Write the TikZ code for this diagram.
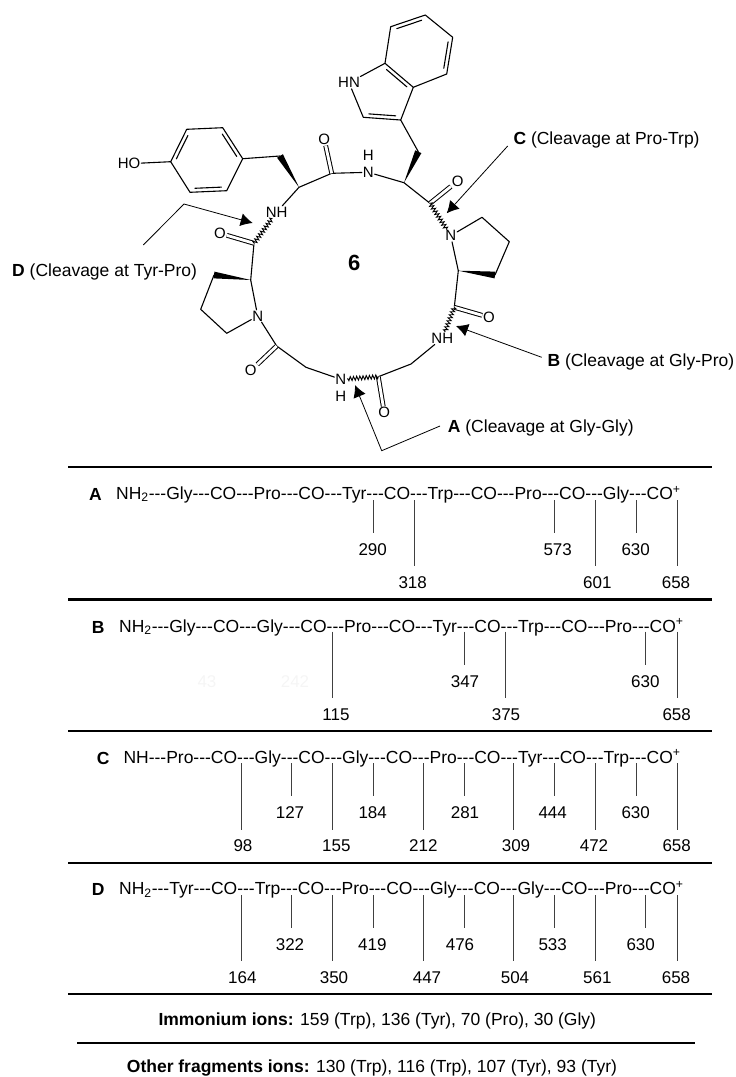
\documentclass[tikz,border=0pt]{standalone}
\usepackage{fontspec}
\setmainfont{Liberation Sans}
\usetikzlibrary{calc,arrows.meta,decorations.pathmorphing}

\tikzset{
    atom/.style={inner sep=0.8pt,font=\fontsize{15}{15}\selectfont},
    lab/.style={anchor=west,inner sep=0pt,yshift=-1.5pt,font=\fontsize{17.5}{20}\selectfont},
    num/.style={inner sep=0pt,text height=12pt,text depth=0pt,font=\fontsize{17}{20}\selectfont},
    tick/.style={line width=0.9pt,black!75,shorten >=10pt},
    rule/.style={line width=2.4pt},
    bond/.style={line width=1.1pt,line cap=round,line join=round},
    dbl/.style={double,double distance=2.8pt,line width=1pt},
    wavy/.style={line width=0.9pt,decorate,decoration={zigzag,segment length=3.2pt,amplitude=2pt}},
    pointer/.style={line width=0.8pt,-{Latex[length=12pt,width=13pt]}},
}
% inner line of a ring double bond, on the left of the way from #1 to #2
\newcommand{\innerbond}[3]{\draw[bond] ($(#1)!0.14!(#2)!#3!90:(#2)$) -- ($(#2)!0.14!(#1)!#3!-90:(#1)$);}
\newcommand{\wedgebond}[2]{\fill (#1) -- ($(#2)!3.4pt!90:(#1)$) -- ($(#2)!3.4pt!-90:(#1)$) -- cycle;}
\newcommand{\pb}{-{}-{}-}

\begin{document}
\begin{tikzpicture}[x=1pt,y=-1pt]
    \useasboundingbox (0,0) rectangle (736,1077);

    % indole
    \coordinate (w1) at (425.3,15);
    \coordinate (w2) at (452.7,37.3);
    \coordinate (w3) at (446.7,74);
    \coordinate (w4) at (413.3,87.3);
    \coordinate (w5) at (385,63.3);
    \coordinate (w6) at (390.7,26.7);
    \coordinate (w7) at (363.3,117.3);
    \coordinate (w8) at (400.7,120);
    \coordinate (w9) at (418.3,151.7);
    \node[atom] (hn) at (349,82.7) {HN};
    \draw[bond] (w1) -- (w2) -- (w3) -- (w4) -- (w5) -- (w6) -- cycle;
    \draw[bond] (w5) -- (hn);
    \draw[bond] (hn) -- (w7) -- (w8) -- (w4);
    \draw[bond] (w8) -- (w9);
    \innerbond{w1}{w6}{3.8pt}
    \innerbond{w3}{w2}{3.8pt}
    \innerbond{w4}{w5}{3.8pt}
    \innerbond{w7}{w8}{3.8pt}

    % phenol
    \coordinate (y1) at (242.7,158.7);
    \coordinate (y2) at (222.7,127.7);
    \coordinate (y3) at (186.7,129.3);
    \coordinate (y4) at (170.7,161.7);
    \coordinate (y5) at (190,192.3);
    \coordinate (y6) at (226.7,190.7);
    \coordinate (y7) at (280,156);
    \node[atom] (ho) at (129,163.7) {HO};
    \draw[bond] (y1) -- (y2) -- (y3) -- (y4) -- (y5) -- (y6) -- cycle;
    \draw[bond] (y1) -- (y7);
    \draw[bond] (y4) -- (ho);
    \innerbond{y1}{y2}{3.8pt}
    \innerbond{y3}{y4}{3.8pt}
    \innerbond{y5}{y6}{3.8pt}

    % peptide ring
    \coordinate (a1) at (299,187.3);
    \coordinate (c1) at (331.7,173.3);
    \coordinate (a2) at (404,182.7);
    \coordinate (c2) at (430,203.3);
    \coordinate (a3) at (458.3,270.7);
    \coordinate (c3) at (454.3,307.3);
    \coordinate (g1) at (411,364);
    \coordinate (c4) at (378.3,376.7);
    \coordinate (g2) at (306,367.3);
    \coordinate (c5) at (276.7,346);
    \coordinate (a4) at (250.7,280);
    \coordinate (c6) at (254,243.3);
    \node[atom] (n1) at (368.3,172.3) {N};
    \node[atom] (h1) at (368.3,155.7) {H};
    \node[atom] (n2) at (450.7,235.7) {N};
    \node[atom] (n3) at (442.3,338.3) {NH};
    \node[atom] (n4) at (340.7,379.3) {N};
    \node[atom] (h4) at (340.7,396.7) {H};
    \node[atom] (n5) at (257.7,316) {N};
    \node[atom] (n6) at (276.7,212) {NH};
    \node[atom] (o1) at (324.3,139.3) {O};
    \node[atom] (o2) at (457.7,181) {O};
    \node[atom] (o3) at (489,317.3) {O};
    \node[atom] (o4) at (384.3,412.7) {O};
    \node[atom] (o5) at (250.7,370.7) {O};
    \node[atom] (o6) at (220,233.3) {O};
    \draw[bond] (n6) -- (a1) -- (c1) -- (n1) -- (a2) -- (c2);
    \draw[bond] (n2) -- (a3) -- (c3);
    \draw[bond] (n3) -- (g1) -- (c4);
    \draw[bond] (n4) -- (g2) -- (c5) -- (n5) -- (a4) -- (c6);
    \draw[dbl] (c1) -- (o1);
    \draw[dbl] (c2) -- (o2);
    \draw[dbl] (c3) -- (o3);
    \draw[dbl] (c4) -- (o4);
    \draw[dbl] (c5) -- (o5);
    \draw[dbl] (c6) -- (o6);
    \wedgebond{a1}{y7}
    \wedgebond{a2}{w9}

    % pyrrolidines
    \coordinate (p1) at (482,217.3);
    \coordinate (p2) at (509.3,241.7);
    \coordinate (p3) at (495,275);
    \coordinate (q1) at (226.7,333.3);
    \coordinate (q2) at (200.7,309.3);
    \coordinate (q3) at (214,275);
    \draw[bond] (n2) -- (p1) -- (p2) -- (p3);
    \draw[bond] (n5) -- (q1) -- (q2) -- (q3);
    \wedgebond{a3}{p3}
    \wedgebond{a4}{q3}

    % cleaved bonds
    \draw[wavy] (c2) -- (n2);
    \draw[wavy] (c3) -- (n3);
    \draw[wavy] (c4) -- (n4);
    \draw[wavy] (c6) -- (n6);

    \node[inner sep=0pt,font=\fontsize{22}{22}\selectfont\bfseries] (six) at (354.3,263.3) {6};

    % cleavage sites
    \node[lab] (la) at (447.7,426.7) {\textbf{A} (Cleavage at Gly-Gly)};
    \node[lab] (lb) at (547.3,360) {\textbf{B} (Cleavage at Gly-Pro)};
    \node[lab] (lc) at (513.3,138) {\textbf{C} (Cleavage at Pro-Trp)};
    \node[lab] (ld) at (12,270) {\textbf{D} (Cleavage at Tyr-Pro)};
    \coordinate (fa) at (440,426);
    \coordinate (ba) at (381.7,450.7);
    \coordinate (ta) at (355,385);
    \coordinate (fb) at (541.7,357.3);
    \coordinate (tb) at (456,326);
    \coordinate (fc) at (507.7,146);
    \coordinate (tc) at (446.7,213.3);
    \coordinate (fd) at (143.3,245);
    \coordinate (bd) at (184,204);
    \coordinate (td) at (252.7,223);
    \draw[pointer] (fa) -- (ba) -- (ta);
    \draw[pointer] (fb) -- (tb);
    \draw[pointer] (fc) -- (tc);
    \draw[pointer] (fd) -- (bd) -- (td);

    % rules
    \coordinate (r1) at (68,467);   \coordinate (s1) at (712,467);
    \coordinate (r2) at (68,599.3); \coordinate (s2) at (712,599.3);
    \coordinate (r3) at (68,731);   \coordinate (s3) at (712,731);
    \coordinate (r4) at (68,862.7); \coordinate (s4) at (712,862.7);
    \coordinate (r5) at (68,994);   \coordinate (s5) at (712,994);
    \coordinate (r6) at (77,1043);  \coordinate (s6) at (695,1043);
    \draw[rule] (r1) -- (s1);
    \draw[rule] (r2) -- (s2);
    \draw[rule] (r3) -- (s3);
    \draw[rule] (r4) -- (s4);
    \draw[rule] (r5) -- (s5);
    \draw[rule] (r6) -- (s6);

    % fragment A
    \node[lab] (sa) at (89,493) {\textbf{A}};
    \node[lab] (ra) at (116,493) {NH\textsubscript{2}\pb Gly\pb CO\pb Pro\pb CO\pb Tyr\pb CO\pb Trp\pb CO\pb Pro\pb CO\pb Gly\pb CO\textsuperscript{+}};
    \node[num] (a290) at (372.7,549) {290}; \coordinate (ka1) at (373.7,500); \draw[tick] (ka1) -- (ka1 |- a290.north);
    \node[num] (a318) at (412.7,582) {318}; \coordinate (ka2) at (414.3,500); \draw[tick] (ka2) -- (ka2 |- a318.north);
    \node[num] (a573) at (557.7,549) {573}; \coordinate (ka3) at (554.3,500); \draw[tick] (ka3) -- (ka3 |- a573.north);
    \node[num] (a601) at (597.3,582) {601}; \coordinate (ka4) at (595.3,500); \draw[tick] (ka4) -- (ka4 |- a601.north);
    \node[num] (a630) at (635.7,549) {630}; \coordinate (ka5) at (636.7,500); \draw[tick] (ka5) -- (ka5 |- a630.north);
    \node[num] (a658) at (676,582) {658}; \coordinate (ka6) at (677.7,500); \draw[tick] (ka6) -- (ka6 |- a658.north);

    % fragment B
    \node[lab] (sb) at (91.7,625.7) {\textbf{B}};
    \node[lab] (rb) at (119,625.7) {NH\textsubscript{2}\pb Gly\pb CO\pb Gly\pb CO\pb Pro\pb CO\pb Tyr\pb CO\pb Trp\pb CO\pb Pro\pb CO\textsuperscript{+}};
    \node[num,black!4] (b43) at (207,681) {43};
    \node[num,black!4] (b242) at (295,681) {242};
    \node[num] (b115) at (336,714.3) {115}; \coordinate (kb1) at (332.3,631.7); \draw[tick] (kb1) -- (kb1 |- b115.north);
    \node[num] (b347) at (465,681) {347}; \coordinate (kb2) at (464,631.7); \draw[tick] (kb2) -- (kb2 |- b347.north);
    \node[num] (b375) at (506,714.3) {375}; \coordinate (kb3) at (505,631.7); \draw[tick] (kb3) -- (kb3 |- b375.north);
    \node[num] (b630) at (645.3,681) {630}; \coordinate (kb4) at (645.3,631.7); \draw[tick] (kb4) -- (kb4 |- b630.north);
    \node[num] (b658) at (676.7,714.3) {658}; \coordinate (kb5) at (677.7,631.7); \draw[tick] (kb5) -- (kb5 |- b658.north);

    % fragment C
    \node[lab] (sc) at (96.7,756.7) {\textbf{C}};
    \node[lab] (rc) at (123.3,756.7) {NH\pb Pro\pb CO\pb Gly\pb CO\pb Gly\pb CO\pb Pro\pb CO\pb Tyr\pb CO\pb Trp\pb CO\textsuperscript{+}};
    \node[num] (c98) at (243,845.7) {98}; \coordinate (kc1) at (241.7,763.3); \draw[tick] (kc1) -- (kc1 |- c98.north);
    \node[num] (c127) at (290,812) {127}; \coordinate (kc2) at (291.3,763.3); \draw[tick] (kc2) -- (kc2 |- c127.north);
    \node[num] (c155) at (336.3,845.7) {155}; \coordinate (kc3) at (332.3,763.3); \draw[tick] (kc3) -- (kc3 |- c155.north);
    \node[num] (c184) at (372.7,812) {184}; \coordinate (kc4) at (373.3,763.3); \draw[tick] (kc4) -- (kc4 |- c184.north);
    \node[num] (c212) at (423.3,845.7) {212}; \coordinate (kc5) at (423,763.3); \draw[tick] (kc5) -- (kc5 |- c212.north);
    \node[num] (c281) at (465,812) {281}; \coordinate (kc6) at (464,763.3); \draw[tick] (kc6) -- (kc6 |- c281.north);
    \node[num] (c309) at (516,845.7) {309}; \coordinate (kc7) at (513.3,763.3); \draw[tick] (kc7) -- (kc7 |- c309.north);
    \node[num] (c444) at (552.7,812) {444}; \coordinate (kc8) at (554.3,763.3); \draw[tick] (kc8) -- (kc8 |- c444.north);
    \node[num] (c472) at (594,845.7) {472}; \coordinate (kc9) at (595.3,763.3); \draw[tick] (kc9) -- (kc9 |- c472.north);
    \node[num] (c630) at (635.7,812) {630}; \coordinate (kc10) at (636.7,763.3); \draw[tick] (kc10) -- (kc10 |- c630.north);
    \node[num] (c658) at (676.7,845.7) {658}; \coordinate (kc11) at (677.7,763.3); \draw[tick] (kc11) -- (kc11 |- c658.north);

    % fragment D
    \node[lab] (sd) at (91.7,888.3) {\textbf{D}};
    \node[lab] (rd) at (119,888.3) {NH\textsubscript{2}\pb Tyr\pb CO\pb Trp\pb CO\pb Pro\pb CO\pb Gly\pb CO\pb Gly\pb CO\pb Pro\pb CO\textsuperscript{+}};
    \node[num] (d164) at (242.3,977.3) {164}; \coordinate (kd1) at (241.7,895); \draw[tick] (kd1) -- (kd1 |- d164.north);
    \node[num] (d322) at (290,944) {322}; \coordinate (kd2) at (291.3,895); \draw[tick] (kd2) -- (kd2 |- d322.north);
    \node[num] (d350) at (334,977.3) {350}; \coordinate (kd3) at (332.3,895); \draw[tick] (kd3) -- (kd3 |- d350.north);
    \node[num] (d419) at (372.3,944) {419}; \coordinate (kd4) at (373.3,895); \draw[tick] (kd4) -- (kd4 |- d419.north);
    \node[num] (d447) at (427,977.3) {447}; \coordinate (kd5) at (423,895); \draw[tick] (kd5) -- (kd5 |- d447.north);
    \node[num] (d476) at (460,944) {476}; \coordinate (kd6) at (464,895); \draw[tick] (kd6) -- (kd6 |- d476.north);
    \node[num] (d504) at (515,977.3) {504}; \coordinate (kd7) at (513.3,895); \draw[tick] (kd7) -- (kd7 |- d504.north);
    \node[num] (d533) at (552.7,944) {533}; \coordinate (kd8) at (554.3,895); \draw[tick] (kd8) -- (kd8 |- d533.north);
    \node[num] (d561) at (597.3,977.3) {561}; \coordinate (kd9) at (595.3,895); \draw[tick] (kd9) -- (kd9 |- d561.north);
    \node[num] (d630) at (640.7,944) {630}; \coordinate (kd10) at (645.3,895); \draw[tick] (kd10) -- (kd10 |- d630.north);
    \node[num] (d658) at (676,977.3) {658}; \coordinate (kd11) at (677.7,895); \draw[tick] (kd11) -- (kd11 |- d658.north);

    % other ions
    \node[lab] (imm) at (158.3,1019) {\textbf{Immonium ions:} 159 (Trp), 136 (Tyr), 70 (Pro), 30 (Gly)};
    \node[lab] (oth) at (126.7,1066) {\textbf{Other fragments ions:} 130 (Trp), 116 (Trp), 107 (Tyr), 93 (Tyr)};
\end{tikzpicture}
\end{document}
